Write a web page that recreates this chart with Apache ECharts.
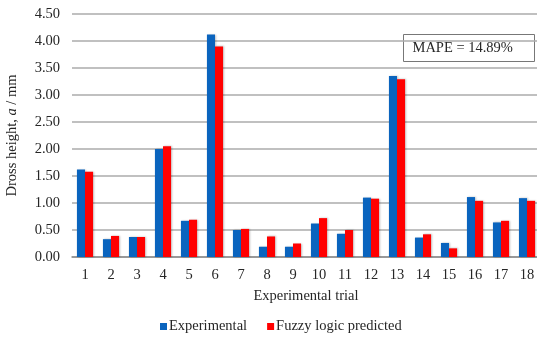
<!DOCTYPE html>
<html>
<head>
<meta charset="utf-8">
<script src="https://cdn.jsdelivr.net/npm/echarts@6/dist/echarts.min.js"></script>
<style>
  html, body { margin: 0; padding: 0; background: #fff; }
  #chart { width: 537px; height: 341px; }
</style>
</head>
<body>
<div id="chart"></div>
<script>
// Trial numbers along the x axis
const trials = ['1','2','3','4','5','6','7','8','9','10','11','12','13','14','15','16','17','18'];
// Measured dross height (mm)
const experimental = [1.62, 0.33, 0.37, 2.00, 0.67, 4.12, 0.50, 0.19, 0.19, 0.62, 0.43, 1.10, 3.35, 0.36, 0.26, 1.11, 0.64, 1.09];
// Fuzzy logic model prediction (mm)
const predicted = [1.58, 0.39, 0.37, 2.05, 0.69, 3.90, 0.52, 0.38, 0.25, 0.72, 0.50, 1.08, 3.29, 0.42, 0.16, 1.04, 0.67, 1.04];
// Y axis range
const yMin = 0, yMax = 4.5, yStep = 0.5;
const mapeText = 'MAPE = 14.89%';

const font = '"Liberation Serif", "Times New Roman", serif';
const fs = 14.5;
const ink = '#262626';

const chart = echarts.init(document.getElementById('chart'));
chart.setOption({
  animation: false,
  textStyle: { fontFamily: font, color: ink },
  grid: { left: 72, top: 14, width: 468, height: 243, containLabel: false, outerBoundsMode: 'none' },
  legend: {
    bottom: 2,
    left: 155,
    itemWidth: 7,
    itemHeight: 7,
    itemGap: 20,
    icon: 'rect',
    textStyle: { fontFamily: font, fontSize: fs, color: ink, padding: [0, 0, 0, -3] },
    data: ['Experimental', 'Fuzzy logic predicted']
  },
  xAxis: {
    type: 'category',
    data: trials,
    name: 'Experimental trial',
    nameLocation: 'middle',
    nameGap: 32,
    nameTextStyle: { fontFamily: font, fontSize: fs, color: ink },
    axisLine: { lineStyle: { color: '#8c8c8c', width: 1.5 } },
    axisTick: { show: false },
    axisLabel: { fontFamily: font, fontSize: fs, color: ink, margin: 11 }
  },
  yAxis: {
    type: 'value',
    min: yMin,
    max: yMax,
    interval: yStep,
    name: 'Dross height, {i|a} / mm',
    nameLocation: 'middle',
    nameGap: 52,
    nameTextStyle: {
      fontFamily: font, fontSize: fs, color: ink,
      rich: { i: { fontFamily: font, fontSize: fs, fontStyle: 'italic', color: ink } }
    },
    axisLine: { show: false },
    axisTick: { show: false },
    splitLine: { lineStyle: { color: '#ababab', width: 1.5 } },
    axisLabel: {
      fontFamily: font, fontSize: fs, color: ink, margin: 12,
      formatter: v => v.toFixed(2)
    }
  },
  series: [
    {
      name: 'Experimental',
      type: 'bar',
      data: experimental,
      barGap: '0%',
      barCategoryGap: '38%',
      itemStyle: { color: '#0a64be', shadowColor: 'rgba(0,0,0,0.25)', shadowBlur: 2, shadowOffsetX: 1 }
    },
    {
      name: 'Fuzzy logic predicted',
      type: 'bar',
      data: predicted,
      barGap: '0%',
      barCategoryGap: '38%',
      itemStyle: { color: '#ff0000', shadowColor: 'rgba(0,0,0,0.25)', shadowBlur: 2, shadowOffsetX: 1 }
    }
  ],
  graphic: [
    {
      type: 'group',
      left: 403,
      top: 34,
      children: [
        {
          type: 'rect',
          shape: { x: 0, y: 0, width: 131, height: 27 },
          style: { fill: '#fff', stroke: '#777', lineWidth: 1 }
        },
        {
          type: 'text',
          x: 9,
          y: 14,
          style: {
            text: mapeText,
            font: fs + 'px ' + font,
            fill: ink,
            textVerticalAlign: 'middle'
          }
        }
      ]
    }
  ]
});
</script>
</body>
</html>
